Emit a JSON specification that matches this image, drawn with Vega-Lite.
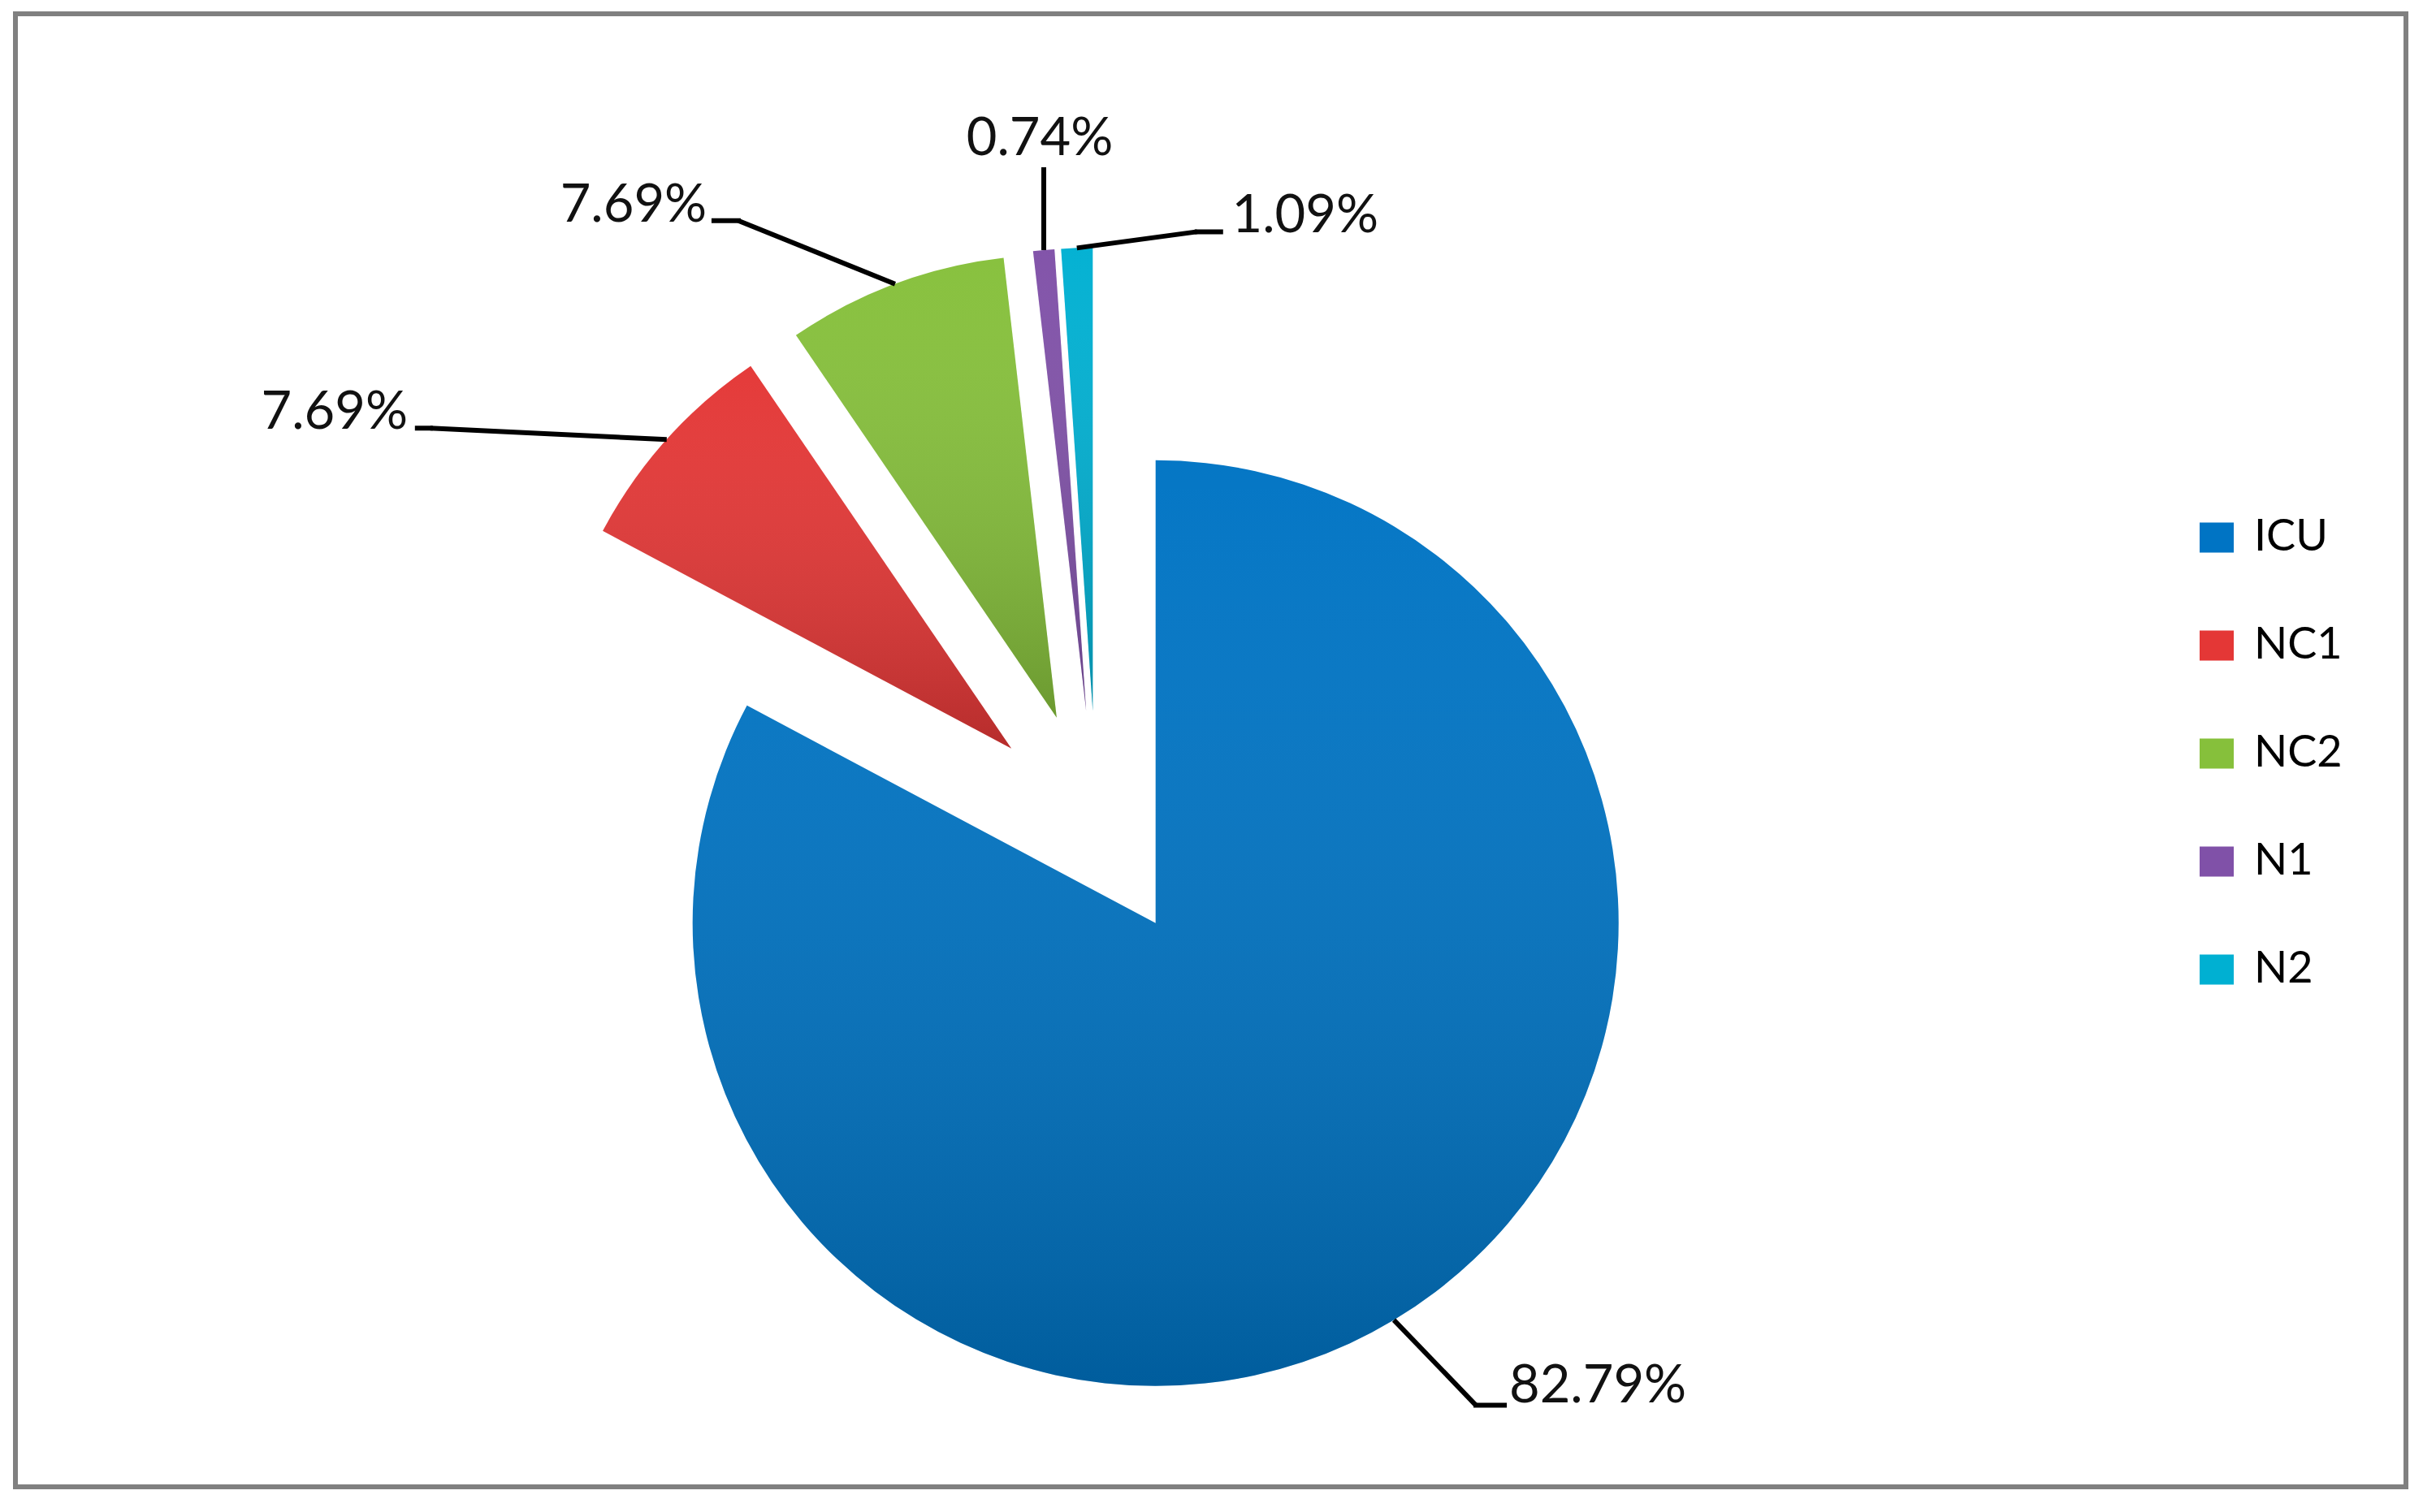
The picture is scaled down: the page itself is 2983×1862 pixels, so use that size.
{
  "$schema": "https://vega.github.io/schema/vega-lite/v6.json",
  "width": 2943,
  "height": 1814,
  "autosize": {"type": "none"},
  "padding": {"left": 19, "top": 17, "right": 21, "bottom": 31},
  "background": "#ffffff",
  "config": {
    "view": {"stroke": "#808080", "strokeWidth": 6},
    "legend": {
      "orient": "none",
      "legendX": 2683,
      "legendY": 618,
      "title": null,
      "padding": 0,
      "labelFont": "Lato",
      "labelFontSize": 54,
      "labelColor": "#000000",
      "symbolType": "M-1,-0.88L1,-0.88L1,0.88L-1,0.88Z",
      "symbolSize": 1764,
      "symbolStrokeWidth": 0,
      "symbolOpacity": 1,
      "labelOffset": 19,
      "rowPadding": 79
    }
  },
  "params": [
    {"name": "cx", "expr": "width*0.4523"},
    {"name": "cy", "expr": "height*0.5507"}
  ],
  "data": {
    "values": [
      {"cat": "ICU", "pct": 82.79, "order": 1, "label": "82.79%"},
      {"cat": "NC1", "pct": 7.69, "order": 2, "label": "7.69%"},
      {"cat": "NC2", "pct": 7.69, "order": 3, "label": "7.69%"},
      {"cat": "N1", "pct": 0.74, "order": 4, "label": "0.74%"},
      {"cat": "N2", "pct": 1.09, "order": 5, "label": "1.09%"}
    ]
  },
  "transform": [
    {"stack": "pct", "groupby": [], "sort": [{"field": "order", "order": "ascending"}], "as": ["s0", "s1"]}
  ],
  "layer": [
    {
      "mark": {"type": "arc", "radius": 570, "strokeWidth": 0},
      "encoding": {
        "theta": {"field": "s0", "type": "quantitative", "stack": null, "scale": {"domain": [0, 100], "range": [0, 6.283185307179586]}},
        "theta2": {"field": "s1"},
        "x": {"value": {"expr": "cx + 141*sin(PI*(datum.s0+datum.s1)/100)"}},
        "y": {"value": {"expr": "cy - 141*cos(PI*(datum.s0+datum.s1)/100)"}},
        "color": {
          "field": "cat",
          "type": "nominal",
          "scale": {"domain": ["ICU", "NC1", "NC2", "N1", "N2"], "range": ["#0074C4", "#E43736", "#86C03B", "#8051A8", "#00B0D2"]},
          "legend": {}
        }
      }
    },
    {
      "mark": {
        "type": "arc",
        "radius": 570,
        "strokeWidth": 0,
        "fill": {"gradient": "linear", "x1": 0, "y1": 0, "x2": 0, "y2": 1, "stops": [{"offset": 0, "color": "rgba(255,255,255,0.02)"}, {"offset": 1, "color": "rgba(0,0,0,0.2)"}]}
      },
      "encoding": {
        "theta": {"field": "s0", "type": "quantitative", "stack": null, "scale": {"domain": [0, 100], "range": [0, 6.283185307179586]}},
        "theta2": {"field": "s1"},
        "x": {"value": {"expr": "cx + 141*sin(PI*(datum.s0+datum.s1)/100)"}},
        "y": {"value": {"expr": "cy - 141*cos(PI*(datum.s0+datum.s1)/100)"}}
      }
    },
    {
      "mark": {"type": "rule", "color": "#000000", "strokeWidth": 6, "strokeCap": "butt"},
      "encoding": {
        "x": {"value": {"expr": "cx + 711*sin(PI*(datum.s0+datum.s1)/100)"}},
        "y": {"value": {"expr": "cy - 711*cos(PI*(datum.s0+datum.s1)/100)"}},
        "x2": {"value": {"expr": "cx + 711*sin(PI*(datum.s0+datum.s1)/100) + [101,-291,-193,0,148][indexof(['ICU','NC1','NC2','N1','N2'], datum.cat)]"}},
        "y2": {"value": {"expr": "cy - 711*cos(PI*(datum.s0+datum.s1)/100) + [105,-14,-78,-99,-20][indexof(['ICU','NC1','NC2','N1','N2'], datum.cat)]"}}
      }
    },
    {
      "mark": {"type": "rule", "color": "#000000", "strokeWidth": 6, "strokeCap": "square"},
      "encoding": {
        "x": {"value": {"expr": "cx + 711*sin(PI*(datum.s0+datum.s1)/100) + [101,-291,-193,0,148][indexof(['ICU','NC1','NC2','N1','N2'], datum.cat)]"}},
        "y": {"value": {"expr": "cy - 711*cos(PI*(datum.s0+datum.s1)/100) + [105,-14,-78,-99,-20][indexof(['ICU','NC1','NC2','N1','N2'], datum.cat)]"}},
        "x2": {"value": {"expr": "cx + 711*sin(PI*(datum.s0+datum.s1)/100) + [136,-307,-223,0,177][indexof(['ICU','NC1','NC2','N1','N2'], datum.cat)]"}},
        "y2": {"value": {"expr": "cy - 711*cos(PI*(datum.s0+datum.s1)/100) + [105,-14,-78,-99,-20][indexof(['ICU','NC1','NC2','N1','N2'], datum.cat)]"}}
      }
    },
    {
      "mark": {"type": "text", "font": "Lato", "fontSize": 65, "color": "#111111", "align": "center", "baseline": "middle"},
      "encoding": {
        "text": {"field": "label", "type": "nominal"},
        "x": {"value": {"expr": "cx + 711*sin(PI*(datum.s0+datum.s1)/100) + [251,-409,-322,-5,281][indexof(['ICU','NC1','NC2','N1','N2'], datum.cat)]"}},
        "y": {"value": {"expr": "cy - 711*cos(PI*(datum.s0+datum.s1)/100) + [81,-33,-97,-137,-39][indexof(['ICU','NC1','NC2','N1','N2'], datum.cat)]"}}
      }
    }
  ]
}
